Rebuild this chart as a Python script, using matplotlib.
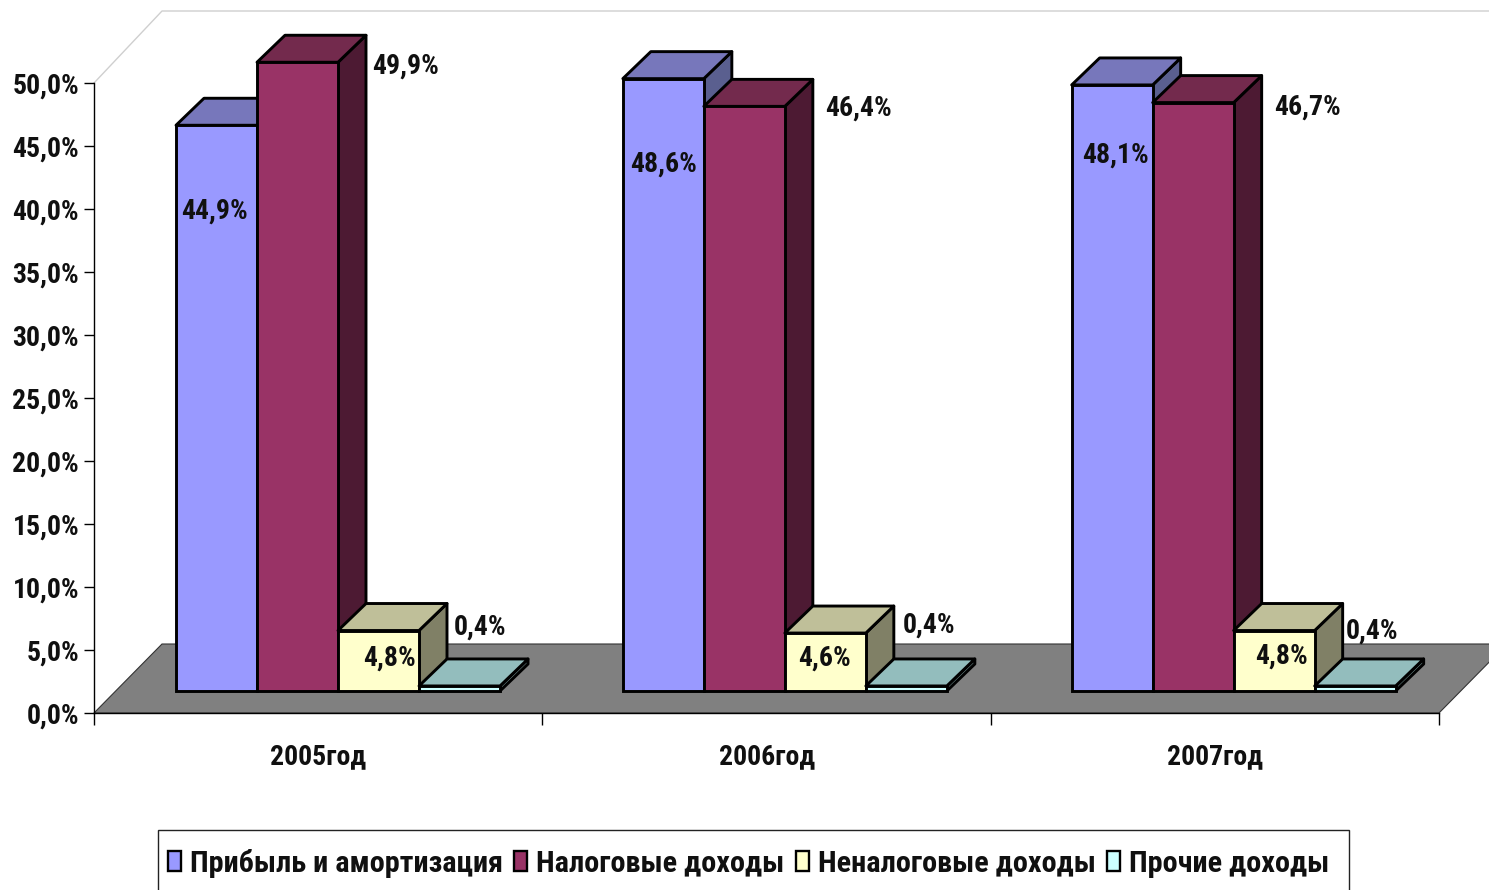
import matplotlib
matplotlib.use("Agg")
import matplotlib.pyplot as plt
from matplotlib.patches import Polygon, Patch, Rectangle

categories = ["2005год", "2006год", "2007год"]
series_names = ["Прибыль и амортизация", "Налоговые доходы", "Неналоговые доходы", "Прочие доходы"]
profit = [44.9, 48.6, 48.1]
tax = [49.9, 46.4, 46.7]
nontax = [4.8, 4.6, 4.8]
other = [0.4, 0.4, 0.4]
y_ticks = [0, 5, 10, 15, 20, 25, 30, 35, 40, 45, 50]

W, H = 1489, 890
L, R, T, B = 94, 1439, 83, 713
PX_X = (R - L) / 3
PX_Y = (B - T) / 50

plt.rcParams["font.family"] = ["Roboto Condensed", "Liberation Sans", "DejaVu Sans"]
plt.rcParams["font.weight"] = "bold"

fig = plt.figure(figsize=(W / 100, H / 100), dpi=100, facecolor="white")
ax = fig.add_axes([L / W, 1 - B / H, (R - L) / W, (B - T) / H])
ax.set_xlim(0, 3)
ax.set_ylim(0, 50)
ax.set_facecolor("none")
for s in ("top", "right"):
    ax.spines[s].set_visible(False)
for s in ("left", "bottom"):
    ax.spines[s].set_linewidth(1.0)
    ax.spines[s].set_zorder(50)

# depth constants, in data units
DX = 28 / PX_X
DY = 27 / PX_Y
LIFT = 22 / PX_Y
WALL_DX = 68 / PX_X
FLOOR_DY = 69 / PX_Y
WALL_DY = 72 / PX_Y
BAR_W = 81 / PX_X
GROUP_OFF = [82 / PX_X, 80.5 / PX_X, 81 / PX_X]

# back wall outline and floor
ax.plot([0, WALL_DX, 3 + WALL_DX], [50, 50 + WALL_DY, 50 + WALL_DY], color="#cfcfcf",
        lw=1.0, clip_on=False, zorder=0)
ax.add_patch(Polygon([(0, 0), (3, 0), (3 + WALL_DX, FLOOR_DY), (WALL_DX, FLOOR_DY)],
                     closed=True, facecolor="#808080", edgecolor="#333333", lw=0.8,
                     clip_on=False, zorder=1))

front = ["#9999FF", "#993366", "#FFFFCC", "#CCFFFF"]
top = ["#7777BB", "#732A4D", "#BFBF99", "#93BDBD"]
side = ["#5A5F8F", "#4D1A33", "#808066", "#668080"]
EDGE = dict(edgecolor="black", lw=2.1, joinstyle="round", clip_on=False)

# text offsets (px right, px up) from the top centre of each bar's front face
label_offsets = [
    [(-2, -86), (0, -85), (3, -70)],
    [(108, -4), (114, -2), (114, -5)],
    [(11, -28), (-1, -25), (7, -26)],
    [(21, 59), (23, 61), (17, 55)],
]

series = [profit, tax, nontax, other]
z = 5
for g in range(len(categories)):
    for k, vals in enumerate(series):
        x0 = g + GROUP_OFF[g] + k * BAR_W
        x1 = x0 + BAR_W
        y0 = LIFT
        y1 = LIFT + vals[g]
        ax.add_patch(Polygon([(x1, y0), (x1 + DX, y0 + DY), (x1 + DX, y1 + DY), (x1, y1)],
                             closed=True, facecolor=side[k], zorder=z, **EDGE))
        ax.add_patch(Polygon([(x0, y1), (x1, y1), (x1 + DX, y1 + DY), (x0 + DX, y1 + DY)],
                             closed=True, facecolor=top[k], zorder=z + 0.1, **EDGE))
        ax.bar(x0, vals[g], BAR_W, bottom=y0, align="edge", color=front[k],
               edgecolor="black", lw=2.1, clip_on=False, zorder=z + 0.2)
        z += 1

for k, vals in enumerate(series):
    for g, v in enumerate(vals):
        xc = g + GROUP_OFF[g] + (k + 0.5) * BAR_W
        ax.annotate(f"{v:.1f}%".replace(".", ","), xy=(xc, LIFT + v),
                    xytext=label_offsets[k][g], textcoords="offset pixels",
                    ha="center", va="center", fontsize=20, color="#101010",
                    annotation_clip=False, zorder=40)

ax.set_yticks(y_ticks)
ax.set_yticklabels([f"{t:.1f}%".replace(".", ",") for t in y_ticks], fontsize=20, color="#101010")
ax.set_xticks([0, 1, 2, 3])
ax.set_xticklabels([])
ax.set_xticks([0.5, 1.5, 2.5], minor=True)
ax.set_xticklabels(categories, minor=True, fontsize=20, color="#101010")
ax.tick_params(axis="y", length=7.2, width=1.0, pad=3.5)
ax.tick_params(axis="x", which="major", length=8.5, width=1.0)
ax.tick_params(axis="x", which="minor", length=0, pad=22)

fig.add_artist(Rectangle((158 / W, 1 - 894 / H), (1349 - 158) / W, 64 / H,
                         transform=fig.transFigure, facecolor="white",
                         edgecolor="#222222", lw=1.0))
handles = [Patch(facecolor=c, edgecolor="black", lw=1.7) for c in front]
leg = fig.legend(handles, series_names, ncols=4, loc="center left",
                 bbox_to_anchor=(168 / W, 1 - 863 / H), borderaxespad=0, borderpad=0,
                 fontsize=21.8, frameon=False, handlelength=0.42, handleheight=0.62,
                 handletextpad=0.3, columnspacing=0.38)
for t in leg.get_texts():
    t.set_color("#101010")

fig.savefig("out.png", dpi=100)
